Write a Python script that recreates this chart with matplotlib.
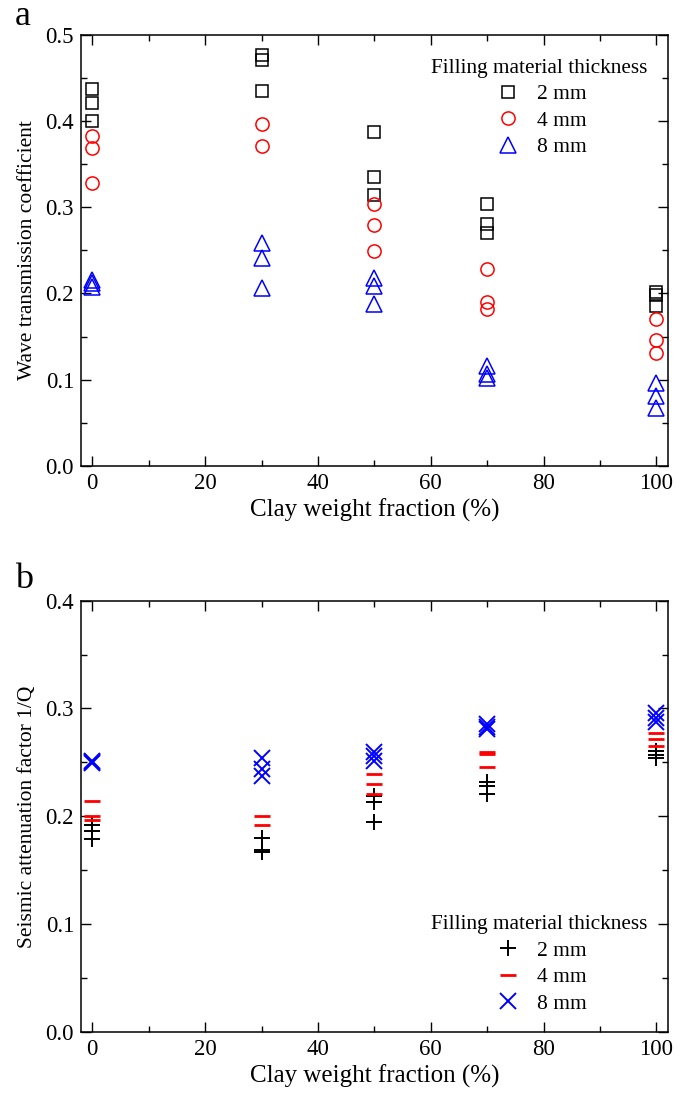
import matplotlib
matplotlib.use("Agg")
import matplotlib.pyplot as plt
from matplotlib.ticker import MultipleLocator

plt.rcParams['font.family'] = ['Liberation Serif', 'DejaVu Serif']
plt.rcParams['mathtext.fontset'] = 'stix'

# ---- data ----
clay = [0, 30, 50, 70, 100]
# panel a: wave transmission coefficient (repeats per clay fraction)
wt_2mm = [[0.437, 0.421, 0.400], [0.476, 0.470, 0.435], [0.387, 0.335, 0.314],
          [0.304, 0.281, 0.270], [0.202, 0.198, 0.186]]
wt_4mm = [[0.382, 0.369, 0.328], [0.396, 0.371], [0.304, 0.279, 0.249],
          [0.228, 0.190, 0.182], [0.170, 0.146, 0.131]]
wt_8mm = [[0.216, 0.212, 0.208], [0.258, 0.241, 0.206], [0.218, 0.209, 0.188],
          [0.116, 0.107, 0.102], [0.096, 0.081, 0.067]]
# panel b: seismic attenuation factor 1/Q
q_2mm = [[0.192, 0.186, 0.179], [0.180, 0.169, 0.167], [0.219, 0.213, 0.195],
         [0.232, 0.228, 0.221], [0.261, 0.257, 0.254]]
q_4mm = [[0.214, 0.200, 0.197], [0.200, 0.192], [0.239, 0.230, 0.221],
         [0.260, 0.258, 0.246], [0.277, 0.272, 0.265]]
q_8mm = [[0.251, 0.250, 0.249], [0.254, 0.244, 0.237], [0.260, 0.256, 0.251],
         [0.286, 0.283, 0.281], [0.296, 0.291, 0.287]]
labels = ['2 mm', '4 mm', '8 mm']
legend_title = 'Filling material thickness'

def flat(groups):
    xs, ys = [], []
    for c, vals in zip(clay, groups):
        for v in vals:
            xs.append(c)
            ys.append(v)
    return xs, ys

fig = plt.figure(figsize=(6.92, 10.95), dpi=100)
ax1 = fig.add_axes([0.117, 0.5744, 0.848, 0.394])
ax2 = fig.add_axes([0.117, 0.0575, 0.848, 0.394])

# panel a
x, y = flat(wt_2mm)
ax1.plot(x, y, 's', mfc='none', mec='black', ms=8.5, mew=1.1, ls='none', label=labels[0])
x, y = flat(wt_4mm)
ax1.plot(x, y, 'o', mfc='none', mec='red', ms=9.5, mew=1.1, ls='none', label=labels[1])
x, y = flat(wt_8mm)
ax1.plot(x, y, '^', mfc='none', mec='blue', ms=11, mew=1.1, ls='none', label=labels[2])

# panel b
x, y = flat(q_2mm)
ax2.plot(x, y, '+', color='black', ms=11, mew=1.4, ls='none', label=labels[0])
x, y = flat(q_4mm)
ax2.plot(x, y, '_', color='red', ms=11, mew=2.0, ls='none', label=labels[1])
x, y = flat(q_8mm)
ax2.plot(x, y, 'x', color='blue', ms=12, mew=1.4, ls='none', label=labels[2])

for ax, ylim, ylab in [(ax1, (0, 0.5), 'Wave transmission coefficient'),
                       (ax2, (0, 0.4), 'Seismic attenuation factor 1/Q')]:
    ax.set_xlim(-2, 102)
    ax.set_ylim(*ylim)
    ax.xaxis.set_major_locator(MultipleLocator(20))
    ax.xaxis.set_minor_locator(MultipleLocator(10))
    ax.yaxis.set_major_locator(MultipleLocator(0.1))
    ax.yaxis.set_minor_locator(MultipleLocator(0.05))
    ax.yaxis.set_major_formatter(plt.FuncFormatter(lambda v, p: f'{v:.1f}'))
    ax.tick_params(which='both', direction='in', top=True, right=True, width=1.0)
    ax.tick_params(which='major', length=7, labelsize=16.5, pad=5)
    ax.tick_params(which='minor', length=4)
    for s in ax.spines.values():
        s.set_linewidth(1.1)
    ax.set_xlabel('Clay weight fraction (%)', fontsize=18, labelpad=3)
    ax.set_ylabel(ylab, fontsize=15.5, labelpad=6)

leg_kw = dict(frameon=False, fontsize=15.5, title_fontsize=15.3, borderpad=0,
              borderaxespad=0, labelspacing=0.3, handletextpad=0.6, handlelength=1.5)
leg1 = ax1.legend(title=legend_title, loc='upper right', bbox_to_anchor=(0.966, 0.944), **leg_kw)
leg2 = ax2.legend(title=legend_title, loc='lower right', bbox_to_anchor=(0.966, 0.042), **leg_kw)

fig.text(15/692, 1.0, 'a', fontsize=26, ha='left', va='top')
fig.text(15/692, 1 - 563/1095, 'b', fontsize=26, ha='left', va='top')

fig.savefig('out.png', dpi=100)
